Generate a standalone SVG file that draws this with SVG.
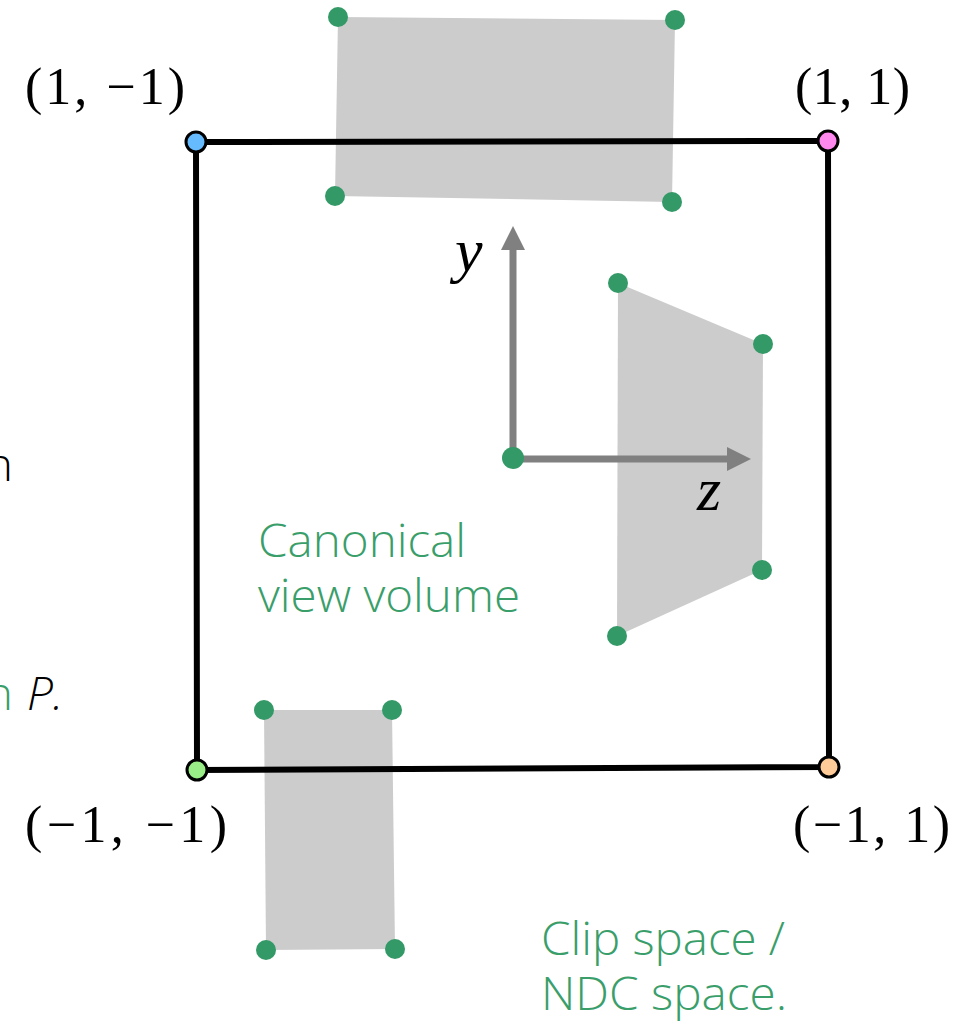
<svg xmlns="http://www.w3.org/2000/svg" width="971" height="1026" viewBox="0 0 971 1026">
<style>
.shape{fill:#cccccc;stroke:none}
.dot{fill:#339966}
.math{font-family:"Liberation Serif","DejaVu Serif",serif;font-size:52px;fill:#000}
.mvar{font-family:"Liberation Serif","DejaVu Serif",serif;font-style:italic;font-size:62px;fill:#000}
.lbl{font-family:"Open Sans","Noto Sans",sans-serif;font-weight:300;font-size:46px;fill:#3a9e6a}
.blk{font-family:"Open Sans","Noto Sans",sans-serif;font-weight:300;font-size:46px;fill:#000}
.axis{stroke:#808080;stroke-width:7;fill:none}
.corner{stroke:#000;stroke-width:3}
</style>
<defs>
<marker id="arr" markerUnits="userSpaceOnUse" markerWidth="26" markerHeight="26" refX="2" refY="12" orient="auto" viewBox="0 0 26 24">
<path d="M0,0 L24,12 L0,24 Z" fill="#808080"/>
</marker>
</defs>
<rect width="971" height="1026" fill="#fff"/>

<g id="left-text">
<text class="blk" x="13" y="481" text-anchor="end">n</text>
<text class="lbl" x="13" y="710" text-anchor="end">n</text>
<text class="blk" x="27" y="710" font-style="italic" font-weight="400">P.</text>
</g>

<g id="top-shape">
<polygon class="shape" points="338,17 675,20 672,202 335,196"/>
</g>
<g id="frustum">
<polygon class="shape" points="618,283 763,344 762,570 617,636"/>
</g>
<g id="bottom-shape">
<polygon class="shape" points="264,710 392,710 395,949 266,950"/>
</g>

<g id="square">
<polygon points="196,142 828,141 829,767 197,770" fill="none" stroke="#000" stroke-width="6" stroke-linejoin="miter"/>
</g>

<g id="connectors">
<line class="axis" x1="513" y1="458" x2="513" y2="248" marker-end="url(#arr)"/>
<line class="axis" x1="513" y1="459" x2="729" y2="459" marker-end="url(#arr)"/>
</g>

<g id="dots">
<circle class="dot" cx="338" cy="17" r="10"/>
<circle class="dot" cx="675" cy="20" r="10"/>
<circle class="dot" cx="672" cy="202" r="10"/>
<circle class="dot" cx="335" cy="196" r="10"/>
<circle class="dot" cx="618" cy="283" r="10"/>
<circle class="dot" cx="763" cy="344" r="10"/>
<circle class="dot" cx="762" cy="570" r="10"/>
<circle class="dot" cx="617" cy="636" r="10"/>
<circle class="dot" cx="264" cy="710" r="10"/>
<circle class="dot" cx="392" cy="710" r="10"/>
<circle class="dot" cx="395" cy="949" r="10"/>
<circle class="dot" cx="266" cy="950" r="10"/>
<circle class="dot" cx="513" cy="458" r="11"/>
</g>

<g id="corner-tl"><circle class="corner" cx="196" cy="142" r="10" fill="#66bbff"/></g>
<g id="corner-tr"><circle class="corner" cx="828" cy="141" r="10" fill="#ff88ee"/></g>
<g id="corner-bl"><circle class="corner" cx="197" cy="770" r="10" fill="#99ee88"/></g>
<g id="corner-br"><circle class="corner" cx="829" cy="767" r="10" fill="#ffcc99"/></g>

<g id="labels">
<text class="math" x="25" y="104" textLength="160" lengthAdjust="spacing">(1, −1)</text>
<text class="math" x="795" y="104" textLength="115" lengthAdjust="spacing">(1, 1)</text>
<text class="math" x="25" y="842" textLength="202" lengthAdjust="spacing">(−1, −1)</text>
<text class="math" x="793" y="842" textLength="157" lengthAdjust="spacing">(−1, 1)</text>
<text class="mvar" x="455" y="271">y</text>
<text class="mvar" x="697" y="510">z</text>
<text class="lbl" x="258" y="557" textLength="208" lengthAdjust="spacingAndGlyphs">Canonical</text>
<text class="lbl" x="258" y="612" textLength="262" lengthAdjust="spacingAndGlyphs">view volume</text>
<text class="lbl" x="541" y="955" textLength="244" lengthAdjust="spacingAndGlyphs">Clip space /</text>
<text class="lbl" x="541" y="1010" textLength="246" lengthAdjust="spacingAndGlyphs">NDC space.</text>
</g>
</svg>
